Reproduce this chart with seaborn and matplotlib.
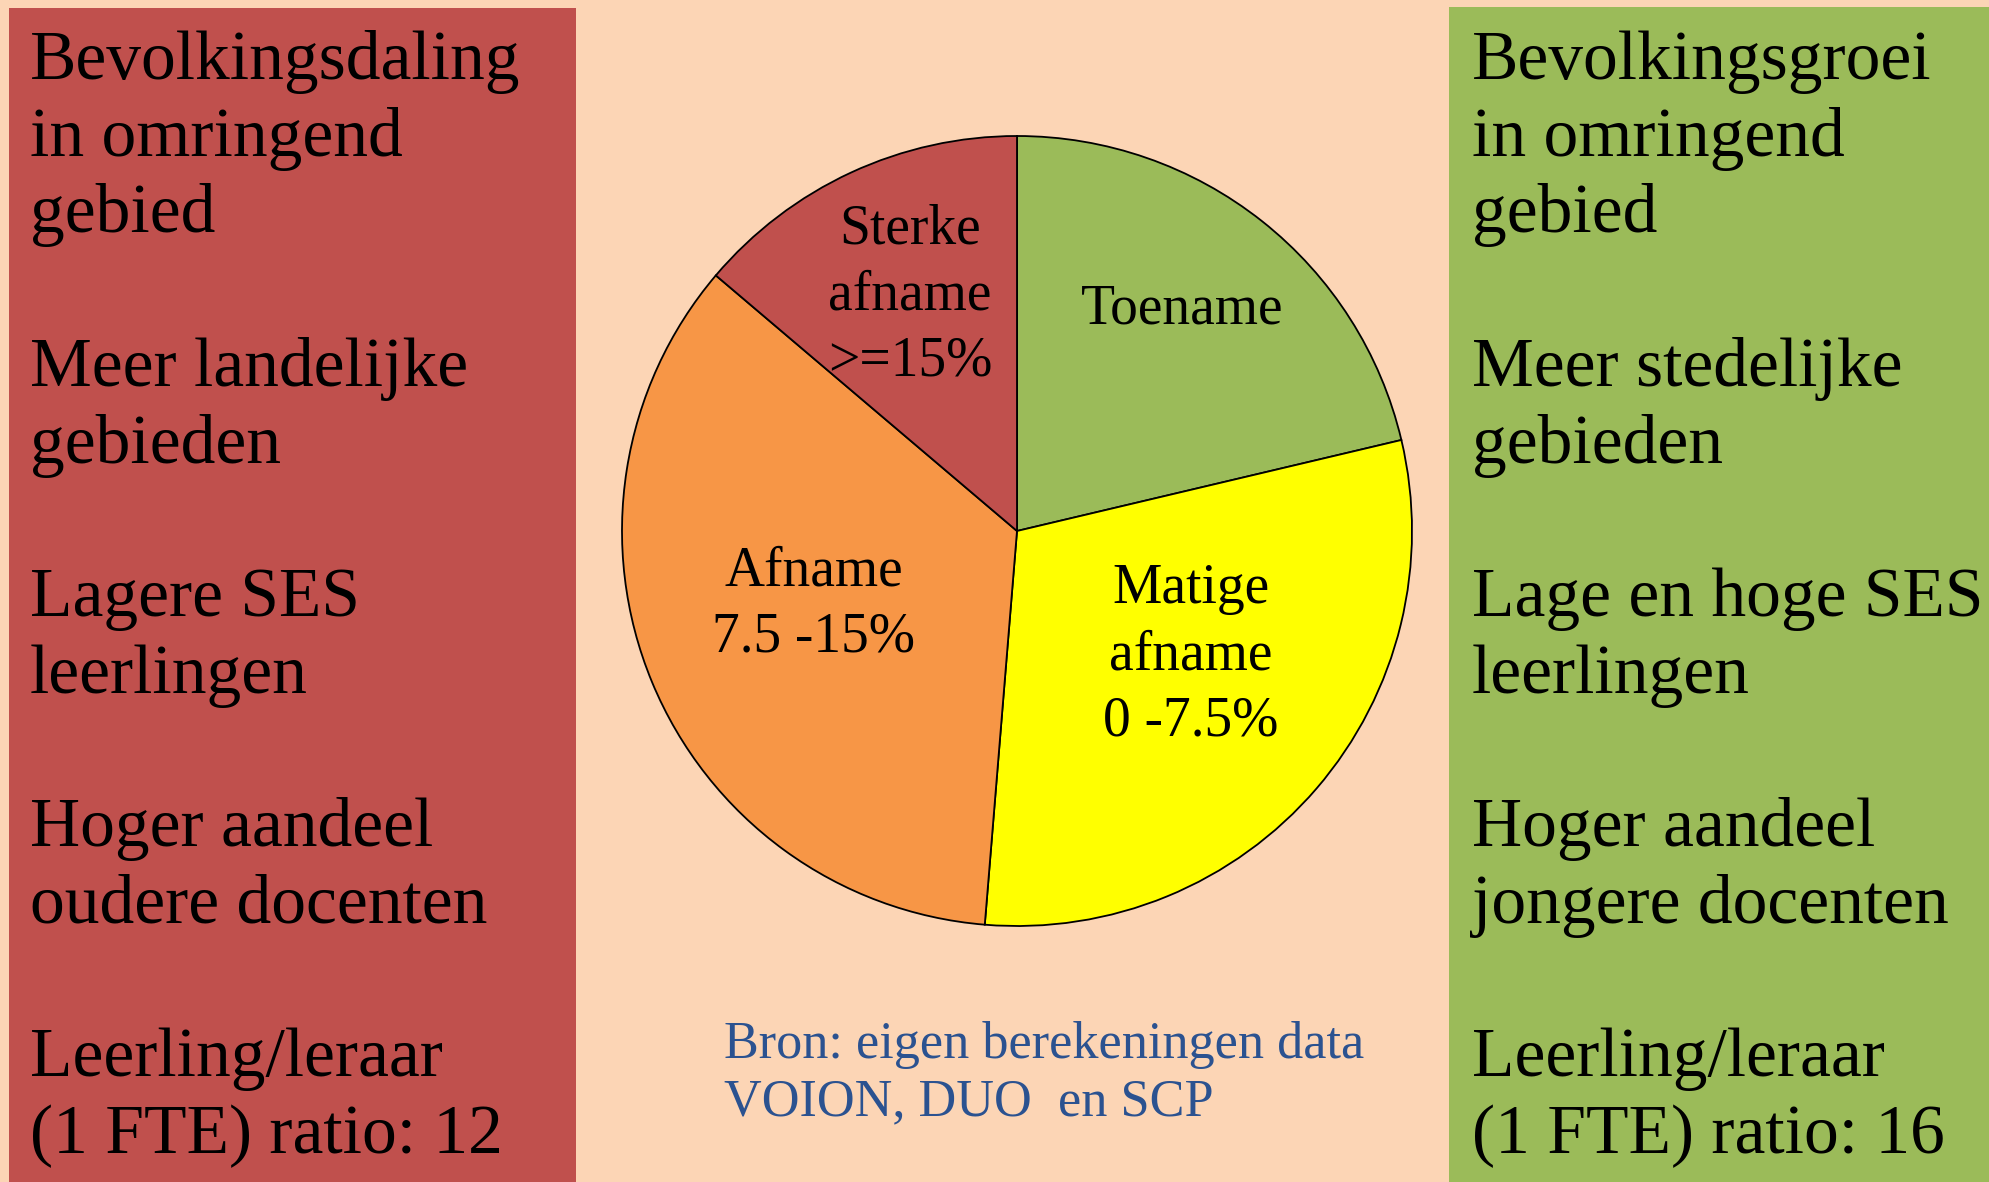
import matplotlib
matplotlib.use("Agg")
import matplotlib.pyplot as plt
import seaborn as sns
from matplotlib.patches import Rectangle

# ---------------- data ----------------
categories = ["Toename", "Matige afname", "Afname", "Sterke afname"]
shares = [21.3, 30.0, 34.9, 13.8]
slice_labels = [["Toename"], ["Matige", "afname", "0 -7.5%"], ["Afname", "7.5 -15%"], ["Sterke", "afname", ">=15%"]]

left_lines = ["Bevolkingsdaling", "in omringend", "gebied", "",
              "Meer landelijke", "gebieden", "",
              "Lagere SES", "leerlingen", "",
              "Hoger aandeel", "oudere docenten", "",
              "Leerling/leraar", "(1 FTE) ratio: 12"]
right_lines = ["Bevolkingsgroei", "in omringend", "gebied", "",
               "Meer stedelijke", "gebieden", "",
               "Lage en hoge SES", "leerlingen", "",
               "Hoger aandeel", "jongere docenten", "",
               "Leerling/leraar", "(1 FTE) ratio: 16"]
source_lines = ["Bron: eigen berekeningen data", "VOION, DUO  en SCP"]

# ---------------- style ----------------
sns.set_theme(style="white")
plt.rcParams["font.family"] = ["Liberation Serif", "DejaVu Serif"]

BG = "#FCD5B5"
RED = "#C0504D"
GREEN = "#9BBB59"
ORANGE = "#F79646"
YELLOW = "#FFFF00"
BLUE = "#2B5290"
slice_colors = sns.color_palette([GREEN, YELLOW, ORANGE, RED])

W, H = 1990, 1182
fig = plt.figure(figsize=(W / 100, H / 100), dpi=100, facecolor=BG)

# background axes in pixel coordinates
ax_bg = fig.add_axes([0, 0, 1, 1], zorder=0)
ax_bg.set_xlim(0, W)
ax_bg.set_ylim(H, 0)
ax_bg.axis("off")
ax_bg.add_patch(Rectangle((9, 8), 567, H, facecolor=RED, edgecolor="none"))
ax_bg.add_patch(Rectangle((1449, 7), W, H, facecolor=GREEN, edgecolor="none"))

# pie axes
cx, cy, R = 1017, 531, 395
pad = 1.03
side = 2 * R * pad
ax_pie = fig.add_axes([(cx - side / 2) / W, (H - cy - side / 2) / H, side / W, side / H], zorder=1)
ax_pie.pie(shares, colors=slice_colors, startangle=90, counterclock=False, radius=1,
           wedgeprops=dict(edgecolor="black", linewidth=1.3))
ax_pie.set_xlim(-pad, pad)
ax_pie.set_ylim(-pad, pad)
ax_pie.set_aspect("equal")
ax_pie.axis("off")

# text axes
ax_t = fig.add_axes([0, 0, 1, 1], zorder=2)
ax_t.set_xlim(0, W)
ax_t.set_ylim(H, 0)
ax_t.axis("off")
ax_t.patch.set_alpha(0)

main_fs = 50
base0, step = 79, 76.7
for i, s in enumerate(left_lines):
    if s:
        ax_t.text(30, base0 + i * step, s, fontsize=main_fs, color="black", ha="left", va="baseline")
for i, s in enumerate(right_lines):
    if s:
        ax_t.text(1472, base0 + i * step, s, fontsize=main_fs, color="black", ha="left", va="baseline")

# slice labels (positions as laid out in the original slide)
pie_fs = 40
label_pos = [(1182, 324), (1191, 603), (814, 585), (910, 243)]
for lines, (x, y) in zip(slice_labels, label_pos):
    for j, s in enumerate(lines):
        ax_t.text(x, y + j * 66.5, s, fontsize=pie_fs, color="black", ha="center", va="baseline")

# source
for j, s in enumerate(source_lines):
    ax_t.text(724, 1058 + j * 57, s, fontsize=37.6, color=BLUE, ha="left", va="baseline")

fig.savefig("out.png", dpi=100, facecolor=BG)
